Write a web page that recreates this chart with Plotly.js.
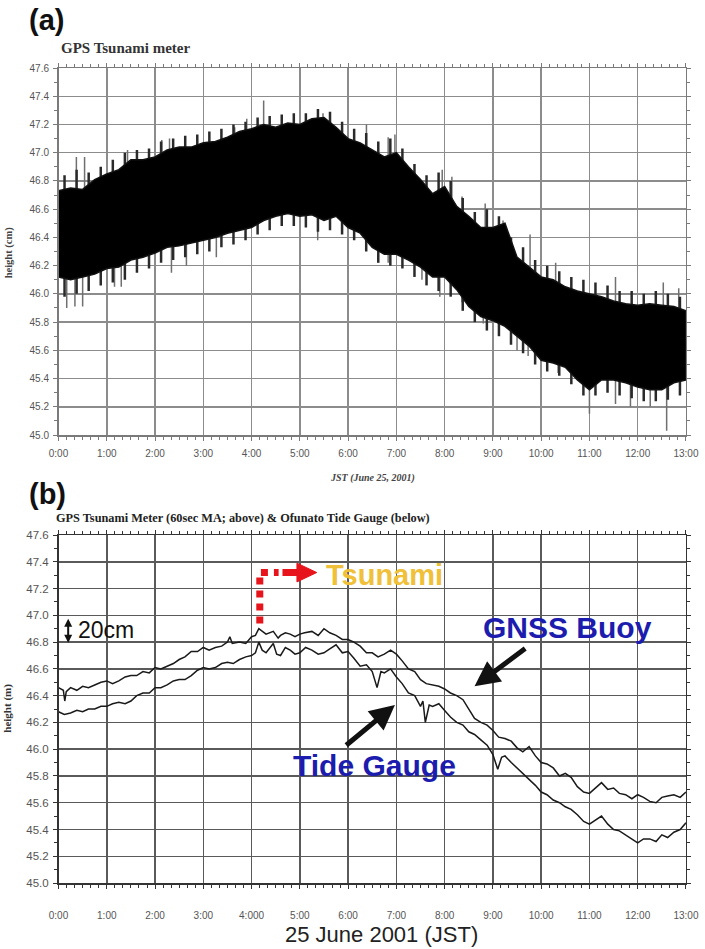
<!DOCTYPE html>
<html>
<head>
<meta charset="utf-8">
<script src="https://cdn.plot.ly/plotly-3.0.1.min.js"></script>
<style>
  html, body { margin: 0; padding: 0; background: #fff; }
  #chart { width: 705px; height: 949px; }
</style>
</head>
<body>
<div id="chart"></div>
<script>
// hour ticks shared by both panels
const hourTicks = [0, 1, 2, 3, 4, 5, 6, 7, 8, 9, 10, 11, 12, 13];
const hourLabelsA = ['0:00', '1:00', '2:00', '3:00', '4:00', '5:00', '6:00', '7:00', '8:00', '9:00', '10:00', '11:00', '12:00', '13:00'];
const hourLabelsB = ['0:00', '1:00', '2:00', '3:00', '4:000', '5:00', '6:00', '7:00', '8:00', '9:00', '10:00', '11:00', '12:00', '13:00'];

// (a) raw GPS tsunami meter: dense black core of the trace, every 15 min
const bandTime = [0, 0.25, 0.5, 0.75, 1, 1.25, 1.5, 1.75, 2, 2.25, 2.5, 2.75, 3, 3.25, 3.5, 3.75, 4, 4.25, 4.5, 4.75, 5, 5.25, 5.5, 5.75, 6, 6.25, 6.5, 6.75, 7, 7.25, 7.5, 7.75, 8, 8.25, 8.5, 8.75, 9, 9.25, 9.5, 9.75, 10, 10.25, 10.5, 10.75, 11, 11.25, 11.5, 11.75, 12, 12.25, 12.5, 12.75, 13];
const bandHigh = [46.73, 46.75, 46.74, 46.81, 46.85, 46.88, 46.95, 46.95, 46.97, 47.02, 47.04, 47.04, 47.07, 47.08, 47.11, 47.15, 47.17, 47.20, 47.18, 47.21, 47.20, 47.24, 47.25, 47.18, 47.10, 47.07, 47.02, 46.97, 47.00, 46.90, 46.81, 46.71, 46.76, 46.62, 46.55, 46.47, 46.47, 46.50, 46.26, 46.19, 46.12, 46.10, 46.05, 46.02, 46.00, 45.98, 45.95, 45.93, 45.92, 45.93, 45.92, 45.91, 45.88];
const bandLow = [46.12, 46.10, 46.12, 46.14, 46.18, 46.19, 46.24, 46.26, 46.29, 46.33, 46.34, 46.36, 46.38, 46.40, 46.43, 46.45, 46.47, 46.52, 46.55, 46.57, 46.55, 46.56, 46.52, 46.55, 46.47, 46.43, 46.33, 46.28, 46.28, 46.24, 46.19, 46.12, 46.12, 46.03, 45.91, 45.84, 45.81, 45.77, 45.70, 45.63, 45.53, 45.51, 45.48, 45.39, 45.32, 45.39, 45.39, 45.37, 45.34, 45.32, 45.32, 45.37, 45.39];

// (a) grey fringe of the trace, between the core samples
const hairTime = [0.125, 0.375, 0.625, 0.875, 1.125, 1.375, 1.625, 1.875, 2.125, 2.375, 2.625, 2.875, 3.125, 3.375, 3.625, 3.875, 4.125, 4.375, 4.625, 4.875, 5.125, 5.375, 5.625, 5.875, 6.125, 6.375, 6.625, 6.875, 7.125, 7.375, 7.625, 7.875, 8.125, 8.375, 8.625, 8.875, 9.125, 9.375, 9.625, 9.875, 10.125, 10.375, 10.625, 10.875, 11.125, 11.375, 11.625, 11.875, 12.125, 12.375, 12.625, 12.875];
const hairTop = [46.84, 46.88, 46.86, 46.90, 46.95, 47.00, 47.02, 47.03, 47.08, 47.10, 47.12, 47.13, 47.15, 47.17, 47.20, 47.22, 47.25, 47.26, 47.27, 47.28, 47.28, 47.31, 47.29, 47.22, 47.17, 47.14, 47.08, 47.10, 47.03, 46.92, 46.84, 46.86, 46.80, 46.68, 46.58, 46.60, 46.55, 46.40, 46.33, 46.24, 46.20, 46.16, 46.12, 46.10, 46.08, 46.06, 46.02, 46.02, 46.00, 46.02, 46.00, 45.98];
const hairBottom = [45.98, 46.00, 46.02, 46.06, 46.08, 46.10, 46.15, 46.18, 46.22, 46.24, 46.26, 46.28, 46.30, 46.33, 46.35, 46.38, 46.42, 46.45, 46.48, 46.48, 46.47, 46.44, 46.45, 46.42, 46.38, 46.30, 46.22, 46.20, 46.18, 46.12, 46.06, 46.02, 45.98, 45.88, 45.80, 45.74, 45.70, 45.64, 45.58, 45.50, 45.45, 45.42, 45.36, 45.28, 45.28, 45.30, 45.28, 45.26, 45.24, 45.24, 45.25, 45.28];

// (a) isolated spikes sticking out of the trace
const spikeUpTime = [0.37, 0.54, 1.43, 2.14, 2.3, 3.65, 3.9, 4.25, 5.48, 6.38, 6.83, 6.97, 7.95, 8.15, 8.36, 8.84, 9.21, 9.77, 10.3, 11.54, 12.53, 12.85];
const spikeUpVal = [46.97, 46.97, 47.02, 47.09, 47.10, 47.18, 47.24, 47.37, 47.28, 47.20, 47.11, 47.13, 46.88, 46.83, 46.69, 46.64, 46.52, 46.42, 46.22, 46.12, 46.08, 46.04];
const spikeDownTime = [0.17, 0.34, 0.5, 1.16, 1.3, 2.34, 2.65, 3.27, 5.37, 6.83, 7.53, 7.9, 8.36, 8.8, 9.5, 9.73, 10.35, 11.0, 11.54, 11.85, 12.26, 12.6];
const spikeDownVal = [45.90, 45.91, 45.91, 46.05, 46.05, 46.15, 46.20, 46.26, 46.38, 46.22, 46.10, 45.98, 45.94, 45.79, 45.60, 45.56, 45.44, 45.15, 45.22, 45.20, 45.20, 45.03];

// (b) GNSS buoy, 60 s moving average (m)
const buoyTime = [0, 0.1, 0.13, 0.16, 0.25, 0.38, 0.5, 0.62, 0.75, 0.88, 1, 1.12, 1.25, 1.38, 1.5, 1.62, 1.75, 1.88, 2, 2.12, 2.25, 2.38, 2.5, 2.62, 2.75, 2.88, 3, 3.12, 3.25, 3.38, 3.5, 3.55, 3.6, 3.75, 3.88, 4, 4.08, 4.15, 4.3, 4.45, 4.55, 4.6, 4.7, 4.8, 4.9, 5, 5.1, 5.25, 5.38, 5.5, 5.62, 5.75, 5.88, 6, 6.12, 6.25, 6.38, 6.5, 6.62, 6.75, 6.88, 7, 7.12, 7.25, 7.38, 7.5, 7.62, 7.75, 7.88, 8, 8.12, 8.25, 8.38, 8.5, 8.62, 8.75, 8.88, 9, 9.12, 9.25, 9.38, 9.5, 9.62, 9.75, 9.88, 10, 10.12, 10.25, 10.38, 10.5, 10.62, 10.75, 10.88, 11, 11.12, 11.25, 11.38, 11.5, 11.62, 11.75, 11.88, 12, 12.12, 12.25, 12.38, 12.5, 12.62, 12.75, 12.88, 13];
const buoyHeight = [46.46, 46.44, 46.36, 46.43, 46.46, 46.44, 46.47, 46.46, 46.48, 46.50, 46.51, 46.49, 46.51, 46.54, 46.55, 46.55, 46.58, 46.57, 46.61, 46.60, 46.62, 46.64, 46.67, 46.69, 46.73, 46.73, 46.76, 46.74, 46.76, 46.77, 46.80, 46.84, 46.79, 46.80, 46.79, 46.84, 46.85, 46.90, 46.86, 46.88, 46.83, 46.85, 46.87, 46.86, 46.84, 46.86, 46.87, 46.88, 46.85, 46.90, 46.87, 46.85, 46.82, 46.82, 46.80, 46.77, 46.72, 46.72, 46.69, 46.71, 46.74, 46.71, 46.66, 46.60, 46.58, 46.52, 46.49, 46.48, 46.47, 46.45, 46.42, 46.40, 46.37, 46.30, 46.23, 46.20, 46.18, 46.14, 46.09, 46.08, 46.06, 46.01, 45.98, 46.02, 45.95, 45.90, 45.89, 45.86, 45.80, 45.82, 45.79, 45.72, 45.68, 45.67, 45.71, 45.75, 45.70, 45.71, 45.67, 45.66, 45.63, 45.66, 45.64, 45.61, 45.60, 45.64, 45.65, 45.66, 45.64, 45.68];

// (b) Ofunato tide gauge (m)
const tideTime = [0, 0.12, 0.25, 0.38, 0.5, 0.62, 0.75, 0.88, 1, 1.12, 1.25, 1.38, 1.5, 1.62, 1.75, 1.88, 2, 2.12, 2.25, 2.38, 2.5, 2.62, 2.75, 2.88, 3, 3.12, 3.25, 3.38, 3.5, 3.62, 3.75, 3.88, 4, 4.08, 4.15, 4.22, 4.3, 4.45, 4.52, 4.6, 4.7, 4.8, 4.9, 5, 5.12, 5.25, 5.38, 5.5, 5.62, 5.75, 5.88, 6, 6.12, 6.25, 6.38, 6.5, 6.6, 6.68, 6.75, 6.88, 7, 7.12, 7.25, 7.38, 7.5, 7.55, 7.6, 7.68, 7.75, 7.88, 8, 8.12, 8.25, 8.38, 8.5, 8.62, 8.75, 8.88, 9, 9.05, 9.1, 9.18, 9.25, 9.38, 9.5, 9.62, 9.75, 9.88, 10, 10.12, 10.25, 10.38, 10.5, 10.62, 10.75, 10.88, 11, 11.12, 11.25, 11.38, 11.5, 11.62, 11.75, 11.88, 12, 12.12, 12.25, 12.38, 12.5, 12.62, 12.75, 12.88, 13];
const tideHeight = [46.28, 46.26, 46.27, 46.29, 46.28, 46.30, 46.30, 46.32, 46.32, 46.34, 46.35, 46.34, 46.36, 46.40, 46.42, 46.42, 46.46, 46.46, 46.48, 46.51, 46.52, 46.52, 46.55, 46.59, 46.61, 46.60, 46.61, 46.64, 46.65, 46.64, 46.67, 46.69, 46.70, 46.72, 46.80, 46.74, 46.72, 46.79, 46.71, 46.70, 46.76, 46.74, 46.71, 46.72, 46.76, 46.74, 46.71, 46.72, 46.75, 46.78, 46.72, 46.73, 46.68, 46.62, 46.63, 46.58, 46.46, 46.58, 46.57, 46.60, 46.54, 46.49, 46.42, 46.40, 46.32, 46.36, 46.20, 46.33, 46.32, 46.34, 46.29, 46.24, 46.20, 46.18, 46.13, 46.11, 46.07, 46.03, 45.96, 45.90, 45.85, 45.94, 45.95, 45.90, 45.86, 45.82, 45.77, 45.73, 45.68, 45.66, 45.62, 45.60, 45.57, 45.55, 45.51, 45.46, 45.44, 45.47, 45.50, 45.44, 45.40, 45.39, 45.36, 45.33, 45.30, 45.33, 45.33, 45.31, 45.36, 45.34, 45.38, 45.40, 45.45];

// minor tick positions: every 10 minutes
const tenMinutes = [];
for (let i = 0; i <= 78; i++) tenMinutes.push(i / 6);

// vertical segments for the fringe and the spikes (drawn under the core)
function segments(times, from, to) {
    const xs = [], ys = [];
    times.forEach((t, i) => {
        xs.push(t, t, null);
        ys.push(from[i], to[i], null);
    });
    return { xs, ys };
}

const hairs = segments(hairTime, hairBottom, hairTop);
const spikesUp = segments(spikeUpTime, spikeUpVal, spikeUpVal.map(v => v - 0.35));
const spikesDown = segments(spikeDownTime, spikeDownVal, spikeDownVal.map(v => v + 0.35));

const data = [
    {
        x: spikesUp.xs.concat(spikesDown.xs), y: spikesUp.ys.concat(spikesDown.ys),
        xaxis: 'x', yaxis: 'y', type: 'scatter', mode: 'lines',
        line: { color: '#707070', width: 1.5 }
    },
    {
        x: hairs.xs, y: hairs.ys, xaxis: 'x', yaxis: 'y',
        type: 'scatter', mode: 'lines',
        line: { color: '#2a2a2a', width: 2.5 }
    },
    {
        x: bandTime, y: bandLow, xaxis: 'x', yaxis: 'y',
        type: 'scatter', mode: 'lines',
        line: { color: '#111', width: 1.5 }
    },
    {
        x: bandTime, y: bandHigh, xaxis: 'x', yaxis: 'y',
        type: 'scatter', mode: 'lines',
        fill: 'tonexty', fillcolor: '#000',
        line: { color: '#111', width: 1.5 }
    },
    {
        x: buoyTime, y: buoyHeight, xaxis: 'x2', yaxis: 'y2',
        type: 'scatter', mode: 'lines',
        line: { color: '#1a1a1a', width: 1.5 }
    },
    {
        x: tideTime, y: tideHeight, xaxis: 'x2', yaxis: 'y2',
        type: 'scatter', mode: 'lines',
        line: { color: '#1a1a1a', width: 1.5 }
    }
];

const tickFont = { family: 'Liberation Sans, Arial, sans-serif', size: 10, color: '#555' };

function xAxis(anchor, labels, gridColor, lineColor, standoff) {
    return {
        anchor: anchor,
        domain: [0.083, 0.973],
        range: [0, 13],
        tickmode: 'array',
        tickvals: hourTicks,
        ticktext: labels,
        showgrid: true,
        gridcolor: gridColor,
        gridwidth: 1.5,
        zeroline: false,
        showline: true,
        linecolor: lineColor,
        linewidth: 1.5,
        mirror: 'allticks',
        ticks: 'outside',
        ticklen: 4,
        tickcolor: lineColor,
        ticklabelstandoff: standoff,
        tickfont: tickFont,
        minor: { tickmode: 'array', tickvals: tenMinutes, ticks: 'outside', ticklen: 3, tickcolor: lineColor, showgrid: false }
    };
}

function yAxis(anchor, domain, gridColor, lineColor, fontSize) {
    return {
        anchor: anchor,
        domain: domain,
        range: [45, 47.6],
        tickmode: 'linear',
        tick0: 45,
        dtick: 0.2,
        tickformat: '.1f',
        showgrid: true,
        gridcolor: gridColor,
        gridwidth: 1.5,
        zeroline: false,
        showline: true,
        linecolor: lineColor,
        linewidth: 1.5,
        mirror: 'allticks',
        ticks: 'outside',
        ticklen: 4,
        tickcolor: lineColor,
        ticklabelstandoff: 2,
        tickfont: Object.assign({}, tickFont, { size: fontSize }),
        minor: { dtick: 0.1, ticks: 'outside', ticklen: 3, tickcolor: lineColor, showgrid: false }
    };
}

const serif = 'Liberation Serif, Times New Roman, serif';
const sans = 'Liberation Sans, Arial, sans-serif';
const blue = '#1c1cae';

const layout = {
    width: 705,
    height: 949,
    margin: { l: 0, r: 0, t: 0, b: 0 },
    paper_bgcolor: '#fff',
    plot_bgcolor: '#fff',
    showlegend: false,
    hovermode: false,
    xaxis: xAxis('y', hourLabelsA, '#8c8c8c', '#7a7a7a', 4),
    yaxis: yAxis('x', [0.5416, 0.9283], '#8c8c8c', '#7a7a7a', 10),
    xaxis2: xAxis('y2', hourLabelsB, '#5a5a5a', '#333', 18),
    yaxis2: yAxis('x2', [0.0695, 0.4362], '#5a5a5a', '#333', 11.5),
    shapes: [
        // red dotted marker of the tsunami arrival
        {
            type: 'path', xref: 'x2', yref: 'y2',
            path: 'M 4.17,46.94 L 4.17,47.32 L 4.56,47.32',
            line: { color: '#e8141c', width: 7, dash: '7px,6px' }
        },
        {
            type: 'line', xref: 'x2', yref: 'y2',
            x0: 4.64, y0: 47.32, x1: 4.96, y1: 47.32,
            line: { color: '#e8141c', width: 7 }
        },
        {
            type: 'path', xref: 'x2', yref: 'y2',
            path: 'M 4.94,47.39 L 5.35,47.32 L 4.94,47.25 Z',
            fillcolor: '#e8141c',
            line: { color: '#e8141c', width: 1 }
        }
    ],
    annotations: [
        { text: '<b>(a)</b>', xref: 'paper', yref: 'paper', x: 0.038, y: 0.979, xanchor: 'left', yanchor: 'middle', showarrow: false, font: { family: sans, size: 29, color: '#111' } },
        { text: '<b>(b)</b>', xref: 'paper', yref: 'paper', x: 0.038, y: 0.479, xanchor: 'left', yanchor: 'middle', showarrow: false, font: { family: sans, size: 29, color: '#111' } },
        { text: '<b>GPS Tsunami meter</b>', xref: 'paper', yref: 'paper', x: 0.084, y: 0.9494, xanchor: 'left', yanchor: 'middle', showarrow: false, font: { family: serif, size: 15, color: '#333' } },
        { text: '<b>GPS Tsunami Meter (60sec MA; above) &amp; Ofunato Tide Gauge (below)</b>', xref: 'paper', yref: 'paper', x: 0.077, y: 0.4542, xanchor: 'left', yanchor: 'middle', showarrow: false, font: { family: serif, size: 12.3, color: '#222' } },
        { text: '<b>height (cm)</b>', xref: 'paper', yref: 'paper', x: 0.014, y: 0.734, xanchor: 'center', yanchor: 'middle', textangle: -90, showarrow: false, font: { family: serif, size: 10.5, color: '#444' } },
        { text: '<b>height (m)</b>', xref: 'paper', yref: 'paper', x: 0.011, y: 0.254, xanchor: 'center', yanchor: 'middle', textangle: -90, showarrow: false, font: { family: serif, size: 11, color: '#333' } },
        { text: '<b><i>JST (June 25, 2001)</i></b>', xref: 'paper', yref: 'paper', x: 0.528, y: 0.4963, xanchor: 'center', yanchor: 'middle', showarrow: false, font: { family: serif, size: 10, color: '#444' } },
        { text: '25 June 2001 (JST)', xref: 'paper', yref: 'paper', x: 0.541, y: 0.0148, xanchor: 'center', yanchor: 'middle', showarrow: false, font: { family: sans, size: 22, color: '#222' } },

        // callouts on panel (b)
        { text: '<b>Tsunami</b>', xref: 'x2', yref: 'y2', x: 5.5, y: 47.30, xanchor: 'left', yanchor: 'middle', showarrow: false, font: { family: sans, size: 29, color: '#f0c038' } },
        { text: '<b>GNSS Buoy</b>', xref: 'x2', yref: 'y2', x: 8.75, y: 46.91, xanchor: 'left', yanchor: 'middle', showarrow: false, font: { family: sans, size: 30, color: blue } },
        { text: '<b>Tide Gauge</b>', xref: 'x2', yref: 'y2', x: 4.82, y: 45.88, xanchor: 'left', yanchor: 'middle', showarrow: false, font: { family: sans, size: 30, color: blue } },
        { text: '20cm', xref: 'x2', yref: 'y2', x: 0.36, y: 46.89, xanchor: 'left', yanchor: 'middle', showarrow: false, font: { family: sans, size: 23, color: '#111' } },
        {
            text: '', xref: 'x2', yref: 'y2', x: 0.2, y: 46.795, ax: 0.2, ay: 46.985, axref: 'x2', ayref: 'y2',
            showarrow: true, arrowside: 'end+start', arrowhead: 2, arrowsize: 0.8, arrowwidth: 2, arrowcolor: '#111'
        },
        {
            text: '', xref: 'x2', yref: 'y2', x: 8.62, y: 46.47, ax: 9.70, ay: 46.76, axref: 'x2', ayref: 'y2',
            showarrow: true, arrowhead: 2, arrowsize: 1, arrowwidth: 5, arrowcolor: '#111'
        },
        {
            text: '', xref: 'x2', yref: 'y2', x: 6.97, y: 46.33, ax: 5.93, ay: 46.02, axref: 'x2', ayref: 'y2',
            showarrow: true, arrowhead: 2, arrowsize: 1, arrowwidth: 5, arrowcolor: '#111'
        }
    ]
};

Plotly.newPlot('chart', data, layout, { staticPlot: true });
</script>
</body>
</html>
